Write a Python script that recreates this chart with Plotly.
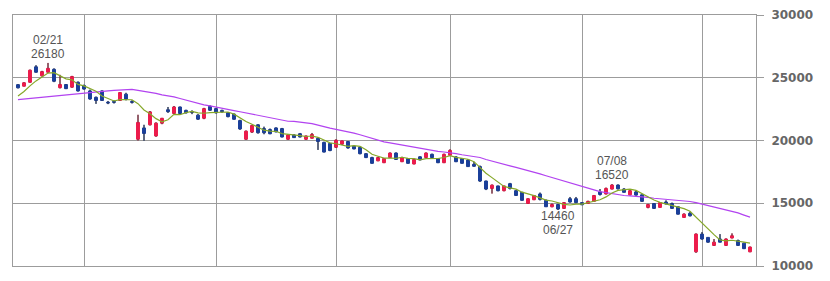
import plotly.graph_objects as go

# ---- data ----
opens = [24450, 24330, 24640, 25870, 25150, 25440, 25670, 24210, 24460, 24250,
         24640, 24380, 23950, 23440, 23950, 23050, 23100, 23190, 23690, 23100,
         20100, 21000, 21250, 20360, 21380, 22450, 22150, 22670, 22400, 22300,
         22020, 21770, 22720, 22540, 22400, 22210, 22100, 21590, 20100, 20670,
         21250, 20950, 20870, 21000, 20950, 20100, 20440, 20540, 20100, 20180,
         20180, 19850, 19770, 19460, 19710, 19920, 19540, 19460, 18950, 18640,
         18380, 18230, 18640, 19000, 18310, 18560, 18130, 18700, 18640, 18900,
         18560, 18230, 18820, 18690, 18560, 18440, 18100, 17920, 16770, 16180,
         16380, 16000, 16560, 16000, 15870, 14980, 15280, 15740, 15230, 14720,
         14900, 14590, 15360, 15360, 15050, 14980, 15150, 15900, 15740, 16130,
         16450, 16130, 15670, 15900, 15670, 14670, 14980, 14670, 15100, 14980,
         14720, 13870, 14200, 11130, 12540, 12280, 11640, 12150, 11640, 12230,
         12030, 11820, 11130]
highs = [24500, 24650, 25650, 26000, 25550, 26180, 25750, 25230, 24500, 25150,
         24700, 24450, 24050, 23500, 24000, 23150, 23200, 23850, 23800, 23200,
         22050, 21250, 22350, 21450, 21800, 22670, 22750, 22700, 22450, 22400,
         22100, 22600, 22800, 22600, 22450, 22250, 22150, 21650, 20800, 21250,
         21300, 21100, 20950, 21050, 21000, 20500, 20500, 20600, 20400, 20600,
         20250, 19900, 19800, 20100, 20000, 19950, 19600, 19500, 19000, 18700,
         18700, 18600, 19050, 19050, 18700, 18600, 18550, 18750, 19050, 18950,
         18600, 18950, 19300, 18750, 18600, 18500, 18300, 18000, 16800, 16500,
         16400, 16400, 16620, 16050, 15900, 15400, 15650, 15850, 15300, 14980,
         14950, 15100, 15500, 15500, 15100, 15200, 15650, 16130, 16250, 16520,
         16500, 16200, 16050, 16000, 15700, 14950, 15020, 15100, 15230, 15050,
         14750, 14200, 14330, 12600, 12700, 12300, 12150, 12540, 12200, 12600,
         12100, 11850, 11550]
lows = [24150, 24300, 24600, 25400, 25100, 25400, 24650, 24150, 24100, 24200,
        23900, 24050, 23250, 22920, 23150, 22900, 22950, 23150, 23200, 22950,
        20000, 19980, 21200, 20300, 21300, 22200, 22100, 22100, 22150, 22100,
        21640, 21700, 22350, 22150, 22200, 21850, 21650, 20850, 20050, 20600,
        20550, 20500, 20500, 20650, 20250, 20050, 20200, 20250, 20050, 20150,
        19250, 19050, 19150, 19400, 19650, 19350, 19300, 18900, 18600, 18150,
        18350, 18200, 18600, 18450, 18280, 18150, 18100, 18420, 18600, 18600,
        18200, 18200, 18800, 18280, 18150, 17900, 17900, 16700, 16050, 15770,
        15950, 15950, 16100, 15580, 15200, 14950, 15250, 15230, 14700, 14680,
        14460, 14550, 15050, 15000, 14850, 14950, 15100, 15620, 15700, 16100,
        16100, 15850, 15620, 15600, 15100, 14600, 14550, 14650, 14900, 14550,
        14100, 13850, 13950, 11050, 12100, 11850, 11600, 11880, 11600, 12200,
        11600, 11350, 11100]
closes = [24200, 24600, 25600, 25440, 25490, 25750, 24720, 24460, 24130, 25100,
          23950, 24100, 23310, 23190, 23190, 23000, 23050, 23820, 23310, 23050,
          21440, 20560, 22280, 21380, 21770, 22300, 22670, 22150, 22210, 22250,
          21700, 22540, 22410, 22210, 22300, 21900, 21690, 20920, 20740, 21200,
          20620, 20620, 20540, 20690, 20280, 20440, 20230, 20280, 20360, 20480,
          19920, 19080, 19200, 20020, 19970, 19410, 19330, 18950, 18640, 18180,
          18640, 18560, 19000, 18490, 18640, 18180, 18490, 18460, 19000, 18640,
          18230, 18900, 19210, 18310, 18180, 17920, 17950, 16770, 16130, 16440,
          16000, 16380, 16180, 15620, 15230, 15360, 15620, 15310, 14720, 14900,
          14540, 15050, 15100, 15050, 14880, 15150, 15620, 15700, 16180, 16450,
          16150, 15870, 16000, 15650, 15150, 14900, 14590, 15050, 14950, 14590,
          14130, 14130, 14000, 12540, 12150, 11900, 11900, 11900, 12150, 12410,
          11640, 11380, 11510]

# moving-average values at the left edge (window reaches before the chart)
ma5_head = [23540, 23900, 24350, 24750]
ma25_head = [23250, 23300, 23360, 23410, 23450, 23500, 23540, 23580, 23630, 23680,
             23740, 23800, 23850, 23900, 23930, 23960, 23990, 24020, 24050, 24070,
             24000, 23930, 23850, 23750]

month_start_idx = [11, 33, 53, 72, 94, 114]
y_ticks = [10000, 15000, 20000, 25000, 30000]
y_tick_labels = ["10000", "15000", "20000", "25000", "30000"]
peak_labels = [  # (index, date text, value, kind)
    (5, "02/21", 26180, "high"),
    (99, "07/08", 16520, "high"),
    (90, "06/27", 14460, "low"),
]

# ---- derived ----
n = len(closes)
xs = list(range(n))


def moving_average(values, window, head):
    out = []
    for i in range(len(values)):
        if i < window - 1:
            out.append(head[i])
        else:
            out.append(sum(values[i - window + 1:i + 1]) / window)
    return out


ma5 = moving_average(closes, 5, ma5_head)
ma25 = moving_average(closes, 25, ma25_head)

RED = "#ec1c4c"
BLUE = "#1b3f9a"
WICK = "#333333"
GRID = "#9c9c9c"

wick_x, wick_y = [], []
for i in xs:
    top = max(opens[i], closes[i])
    bot = min(opens[i], closes[i])
    wick_x += [i, i, None, i, i, None]
    wick_y += [highs[i], top, None, bot, lows[i], None]

fig = go.Figure()
fig.add_trace(go.Candlestick(
    x=xs, open=opens, high=highs, low=lows, close=closes,
    increasing=dict(fillcolor=RED, line=dict(color=RED, width=1)),
    decreasing=dict(fillcolor=BLUE, line=dict(color=BLUE, width=1)),
    whiskerwidth=0, showlegend=False, hoverinfo="skip",
))
fig.add_trace(go.Scatter(x=wick_x, y=wick_y, mode="lines",
                         line=dict(color=WICK, width=1), showlegend=False,
                         hoverinfo="skip"))
fig.add_trace(go.Scatter(x=xs, y=ma25, mode="lines",
                         line=dict(color="#b243f0", width=1.2), showlegend=False))
fig.add_trace(go.Scatter(x=xs, y=ma5, mode="lines",
                         line=dict(color="#86a829", width=1.2), showlegend=False))

ann_font = dict(family="Liberation Sans, Arial, sans-serif", size=12, color="#555555")
for idx, date_txt, val, kind in peak_labels:
    if kind == "high":
        shifts = [(str(val), 9), (date_txt, 23)]
    else:
        shifts = [(str(val), -6), (date_txt, -20)]
    for txt, ys in shifts:
        fig.add_annotation(x=idx, y=val, text=txt, showarrow=False,
                           xanchor="center", yanchor="middle", yshift=ys,
                           borderpad=0, font=ann_font)

fig.update_layout(
    width=830, height=281,
    margin=dict(l=13, r=74, t=14, b=8),
    paper_bgcolor="white", plot_bgcolor="white",
    showlegend=False,
    xaxis=dict(range=[-5 / 6, (756 - 18) / 6], tickvals=month_start_idx,
               showticklabels=False, ticks="", showgrid=True, gridcolor=GRID,
               gridwidth=1, zeroline=False, showline=True, linecolor=GRID,
               linewidth=1, mirror=True, rangeslider=dict(visible=False),
               fixedrange=True),
    yaxis=dict(range=[10000, 30000], tickvals=y_ticks, ticktext=y_tick_labels,
               side="right",
               showgrid=True, gridcolor=GRID, gridwidth=1, zeroline=False,
               showline=True, linecolor=GRID, linewidth=1, mirror=True,
               ticks="outside", ticklen=7, tickcolor=GRID, tickwidth=1,
               ticklabelstandoff=5,
               tickfont=dict(family="DejaVu Sans", size=12, color="#666666",
                             weight="bold"),
               fixedrange=True),
)

fig.write_html("out.html")
